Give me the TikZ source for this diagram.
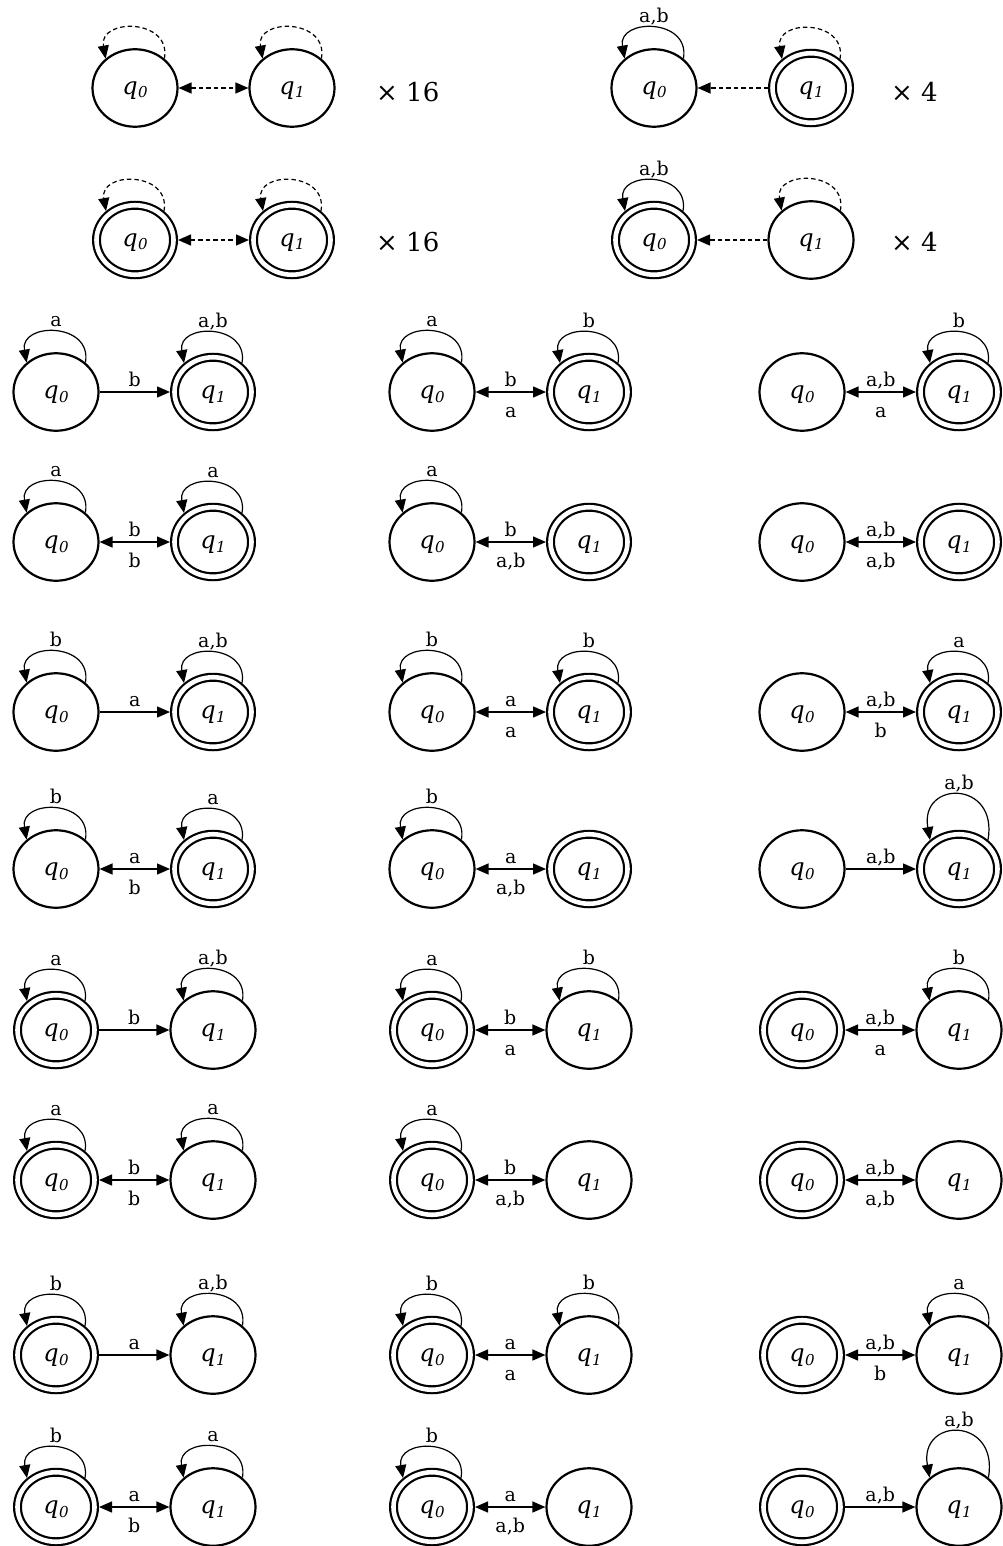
\documentclass[tikz,border=0pt]{standalone}
\usepackage{fontspec}
\setmainfont{DejaVu Serif}
\usetikzlibrary{arrows.meta, shapes.geometric}

\newcommand{\lblfont}{\fontsize{19}{22}\selectfont}
\newcommand{\qfont}{\fontsize{24}{26}\selectfont\itshape}
\newcommand{\bigfont}{\fontsize{26}{30}\selectfont}
\newcommand{\qlab}[1]{q\kern0.5pt\raisebox{-3.5pt}{\fontsize{15}{17}\selectfont #1}}
% two states side by side: name, x of q0, y (from top), style q0, style q1
\newcommand{\pairat}[5]{%
  \node[st,#4] (a#1) at (#2,-#3) {\qlab{0}};
  \node[st,#5] (b#1) at (#2+157,-#3) {\qlab{1}};}

\begin{document}
\begin{tikzpicture}[
  x=1pt, y=1pt,
  st/.style={ellipse, draw, line width=2.2pt, minimum width=85pt, minimum height=77.5pt,
    inner sep=0pt, outer sep=1.1pt, font=\qfont, text height=13pt, text depth=0pt},
  nf/.style={},
  fin/.style={double, double distance=4.6pt, minimum width=77pt, minimum height=69.5pt, outer sep=4.5pt},
  tr/.style={->, line width=1.4pt},
  bi/.style={<->, line width=1.4pt},
  lp/.style={->, line width=1.2pt, out=80, in=100, looseness=1.8},
  tall/.style={looseness=2.7},
  dsh/.style={dash pattern=on 4.5pt off 3pt},
  up/.style={anchor=base, yshift=5.5pt, inner sep=0pt, font=\lblfont},
  dn/.style={anchor=base, yshift=-25pt, inner sep=0pt, font=\lblfont},
  big/.style={anchor=base west, inner sep=0pt, font=\bigfont},
  >={Triangle[length=13pt, width=11pt]}
]
  \useasboundingbox (0,0) rectangle (1002,-1546);

  % top: classes with counts
  \pairat{t1}{135}{88}{nf}{nf}
  \draw[lp,dsh] (at1.45) to (at1.135);
  \draw[lp,dsh] (bt1.45) to (bt1.135);
  \draw[bi,dsh] (at1) -- (bt1);
  \node[big] (m1) at (376,-101.5) {× 16};

  \pairat{t2}{654}{88}{nf}{fin}
  \draw[lp] (at2.45) to node[up]{a,b} (at2.135);
  \draw[lp,dsh] (bt2.45) to (bt2.135);
  \draw[tr,dsh] (bt2) -- (at2);
  \node[big] (m2) at (891,-101.5) {× 4};

  \pairat{t3}{135}{240}{fin}{fin}
  \draw[lp,dsh] (at3.45) to (at3.135);
  \draw[lp,dsh] (bt3.45) to (bt3.135);
  \draw[bi,dsh] (at3) -- (bt3);
  \node[big] (m3) at (376,-251.5) {× 16};

  \pairat{t4}{654}{240}{fin}{nf}
  \draw[lp] (at4.45) to node[up]{a,b} (at4.135);
  \draw[lp,dsh] (bt4.45) to (bt4.135);
  \draw[tr,dsh] (bt4) -- (at4);
  \node[big] (m4) at (891,-251.5) {× 4};

  % grid: upper half q1 final, lower half q0 final
  \foreach \h/\sa/\sb/\ya/\yb/\yc/\yd in {0/nf/fin/392/542/712/869, 1/fin/nf/1030/1180/1355/1507} {
    % row 1
    \pairat{\h11}{56}{\ya}{\sa}{\sb}
    \draw[lp] (a\h11.45) to node[up]{a} (a\h11.135);
    \draw[lp] (b\h11.45) to node[up]{a,b} (b\h11.135);
    \draw[tr] (a\h11) -- node[up]{b} (b\h11);
    \pairat{\h12}{432}{\ya}{\sa}{\sb}
    \draw[lp] (a\h12.45) to node[up]{a} (a\h12.135);
    \draw[lp] (b\h12.45) to node[up]{b} (b\h12.135);
    \draw[bi] (a\h12) -- node[up]{b} node[dn]{a} (b\h12);
    \pairat{\h13}{802}{\ya}{\sa}{\sb}
    \draw[lp] (b\h13.45) to node[up]{b} (b\h13.135);
    \draw[bi] (a\h13) -- node[up]{a,b} node[dn]{a} (b\h13);
    % row 2
    \pairat{\h21}{56}{\yb}{\sa}{\sb}
    \draw[lp] (a\h21.45) to node[up]{a} (a\h21.135);
    \draw[lp] (b\h21.45) to node[up]{a} (b\h21.135);
    \draw[bi] (a\h21) -- node[up]{b} node[dn]{b} (b\h21);
    \pairat{\h22}{432}{\yb}{\sa}{\sb}
    \draw[lp] (a\h22.45) to node[up]{a} (a\h22.135);
    \draw[bi] (a\h22) -- node[up]{b} node[dn]{a,b} (b\h22);
    \pairat{\h23}{802}{\yb}{\sa}{\sb}
    \draw[bi] (a\h23) -- node[up]{a,b} node[dn]{a,b} (b\h23);
    % row 3
    \pairat{\h31}{56}{\yc}{\sa}{\sb}
    \draw[lp] (a\h31.45) to node[up]{b} (a\h31.135);
    \draw[lp] (b\h31.45) to node[up]{a,b} (b\h31.135);
    \draw[tr] (a\h31) -- node[up]{a} (b\h31);
    \pairat{\h32}{432}{\yc}{\sa}{\sb}
    \draw[lp] (a\h32.45) to node[up]{b} (a\h32.135);
    \draw[lp] (b\h32.45) to node[up]{b} (b\h32.135);
    \draw[bi] (a\h32) -- node[up]{a} node[dn]{a} (b\h32);
    \pairat{\h33}{802}{\yc}{\sa}{\sb}
    \draw[lp] (b\h33.45) to node[up]{a} (b\h33.135);
    \draw[bi] (a\h33) -- node[up]{a,b} node[dn]{b} (b\h33);
    % row 4
    \pairat{\h41}{56}{\yd}{\sa}{\sb}
    \draw[lp] (a\h41.45) to node[up]{b} (a\h41.135);
    \draw[lp] (b\h41.45) to node[up]{a} (b\h41.135);
    \draw[bi] (a\h41) -- node[up]{a} node[dn]{b} (b\h41);
    \pairat{\h42}{432}{\yd}{\sa}{\sb}
    \draw[lp] (a\h42.45) to node[up]{b} (a\h42.135);
    \draw[bi] (a\h42) -- node[up]{a} node[dn]{a,b} (b\h42);
    \pairat{\h43}{802}{\yd}{\sa}{\sb}
    \draw[lp,tall] (b\h43.45) to node[up]{a,b} (b\h43.135);
    \draw[tr] (a\h43) -- node[up]{a,b} (b\h43);
  }
\end{tikzpicture}
\end{document}
